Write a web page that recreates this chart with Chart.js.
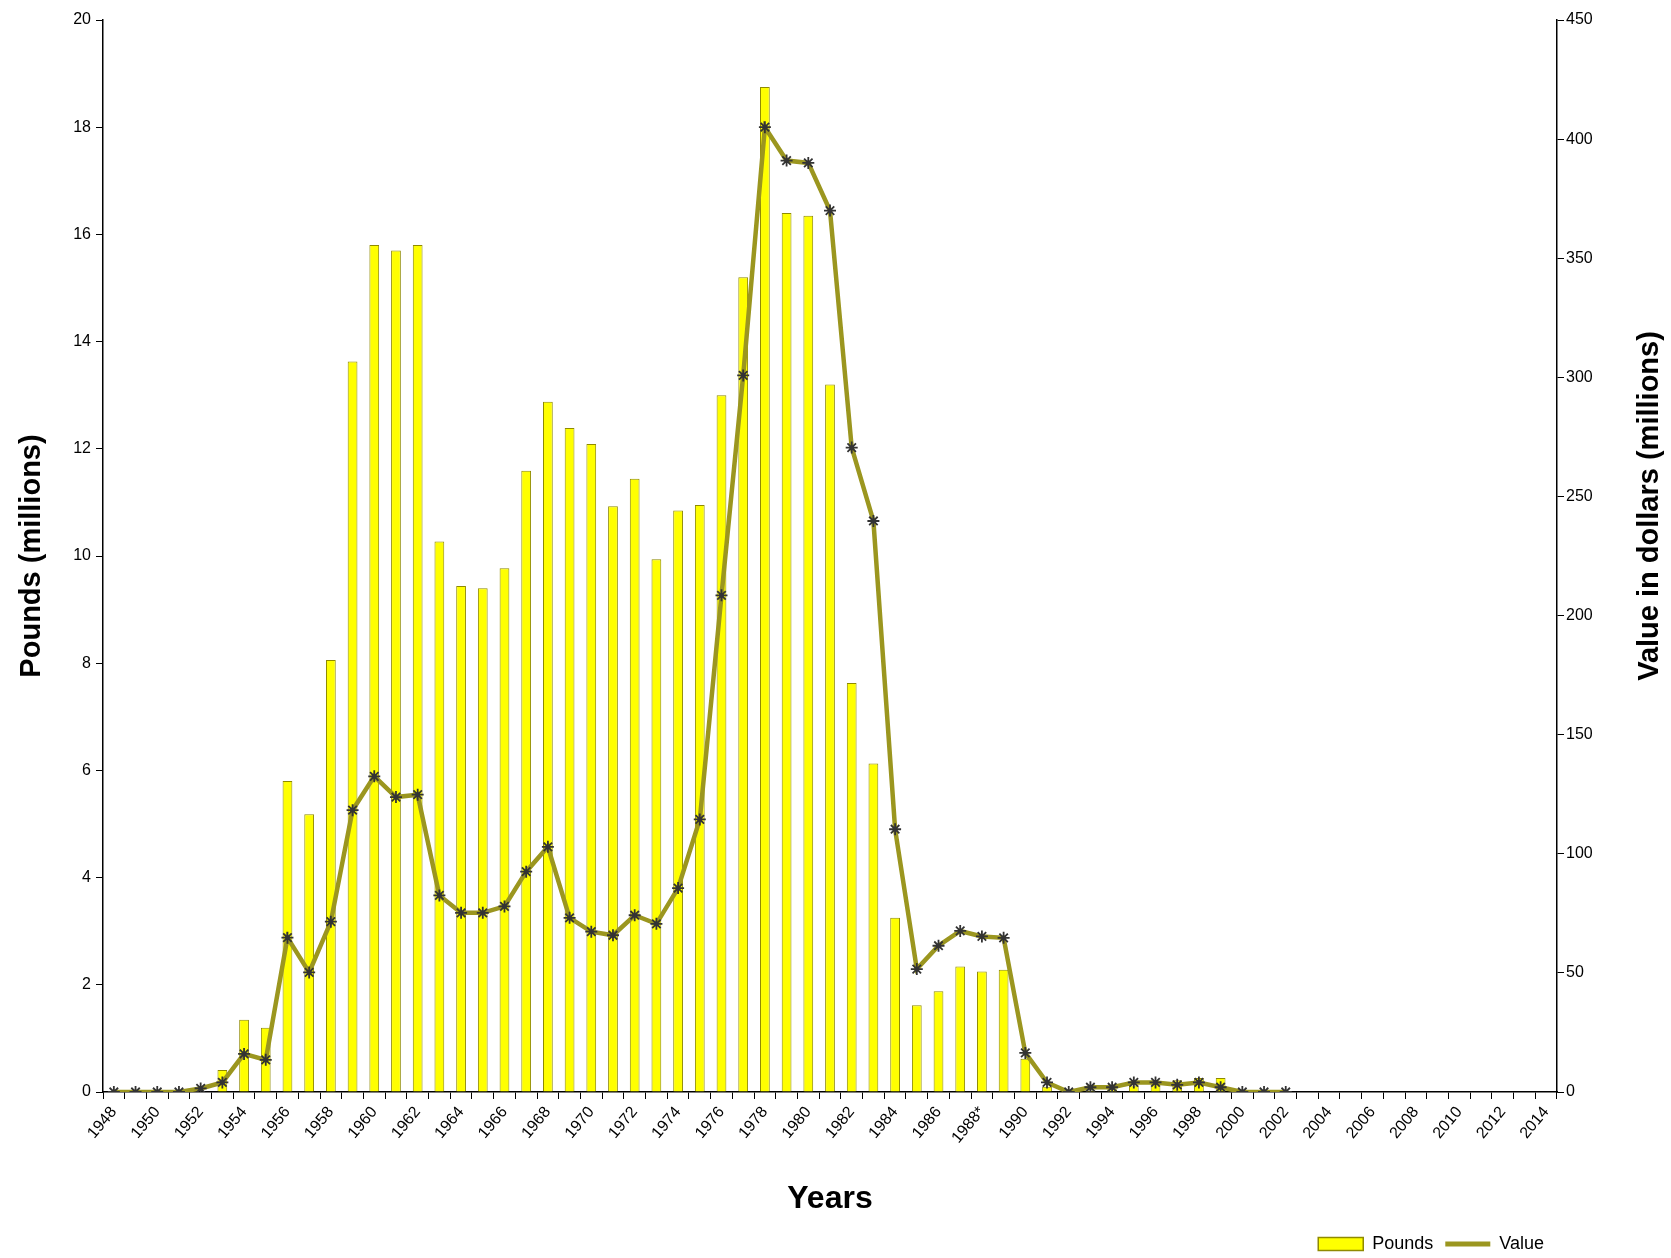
<!DOCTYPE html>
<html>
<head>
<meta charset="utf-8">
<script src="https://cdn.jsdelivr.net/npm/chart.js@4.4.1/dist/chart.umd.min.js"></script>
<style>
  html, body { margin: 0; padding: 0; background: #fff; }
  #wrap { width: 1671px; height: 1258px; }
</style>
</head>
<body>
<div id="wrap"><canvas id="landings"></canvas></div>
<script>
// categories (one per year, 1948-2014)
const years = [
  "1948","1949","1950","1951","1952","1953","1954","1955","1956","1957",
  "1958","1959","1960","1961","1962","1963","1964","1965","1966","1967",
  "1968","1969","1970","1971","1972","1973","1974","1975","1976","1977",
  "1978","1979","1980","1981","1982","1983","1984","1985","1986","1987",
  "1988*","1989","1990","1991","1992","1993","1994","1995","1996","1997",
  "1998","1999","2000","2001","2002","2003","2004","2005","2006","2007",
  "2008","2009","2010","2011","2012","2013","2014"
];

// landings, millions of pounds (1948-2002)
const pounds = [
  0, 0, 0, 0, 0, 0.41, 1.35, 1.2,
  5.8, 5.18, 8.06, 13.63, 15.8, 15.7, 15.8, 10.27, 9.44, 9.4,
  9.77, 11.59, 12.88, 12.39, 12.09, 10.93, 11.44, 9.94, 10.85, 10.95,
  13.0, 15.2, 18.75, 16.4, 16.35, 13.2, 7.63, 6.13, 3.25, 1.62,
  1.88, 2.34, 2.25, 2.28, 0.62, 0.1, 0, 0.03, 0.05, 0.12,
  0.18, 0.22, 0.26, 0.26, 0, 0, 0
];

// ex-vessel value, millions of dollars (1948-2002)
const value = [
  0, 0, 0, 0, 1.5, 4, 16, 13.5,
  64.8, 50.2, 71.5, 118.3, 132.5, 123.8, 124.8, 82.5, 75.2, 75.2,
  77.9, 92.5, 102.9, 73.1, 67.3, 65.8, 74.2, 70.6, 85.6, 114.4,
  208.5, 300.8, 405, 391, 390, 370, 270.5, 239.7, 110.3, 51.6,
  61.4, 67.6, 65.3, 64.7, 16.4, 4, 0, 2, 2, 4,
  4, 3, 4, 2, 0, 0, 0
];

const poundTicks = [0, 20, 2];
const valueTicks = [0, 450, 50];

const fontFamily = "'Liberation Sans', Arial, sans-serif";
const barFill = "#ffff00";
const barEdge = "#8f8a00";
const lineColor = "#9b961f";

// push the legend in from the right edge and down a little
const legendShift = {
  id: "legendShift",
  afterLayout(chart) {
    const lg = chart.legend;
    lg.left -= 115;
    lg.right -= 115;
    lg.top += 5;
    lg.bottom += 5;
  }
};

// right axis title reads bottom-to-top, like the left one
const rightTitle = {
  id: "rightTitle",
  afterDraw(chart) {
    const s = chart.scales.y1;
    const c = chart.ctx;
    c.save();
    c.translate(s.right - 21, (s.top + s.bottom) / 2 - 50);
    c.rotate(-Math.PI / 2);
    c.font = "bold 29px " + fontFamily;
    c.fillStyle = "#000";
    c.textAlign = "center";
    c.textBaseline = "middle";
    c.fillText("Value in dollars (millions)", 0, 0);
    c.restore();
  }
};

const ctx = document.getElementById("landings").getContext("2d");

new Chart(ctx, {
  type: "bar",
  data: {
    labels: years,
    datasets: [
      {
        type: "bar",
        label: "Pounds",
        data: pounds,
        yAxisID: "y",
        backgroundColor: barFill,
        borderColor: barEdge,
        borderWidth: 1,
        barPercentage: 0.45,
        categoryPercentage: 1.0,
        order: 1
      },
      {
        type: "line",
        label: "Value",
        data: value,
        yAxisID: "y1",
        borderColor: lineColor,
        backgroundColor: "#333",
        borderWidth: 4.5,
        tension: 0,
        pointStyle: "star",
        pointRadius: 6,
        pointBorderColor: "#333",
        pointBorderWidth: 1.8,
        order: 0
      }
    ]
  },
  options: {
    responsive: true,
    maintainAspectRatio: false,
    animation: false,
    layout: { padding: { top: 20, left: 0, right: 0, bottom: 0 } },
    plugins: {
      title: { display: false },
      tooltip: { enabled: false },
      legend: {
        position: "bottom",
        align: "end",
        labels: {
          usePointStyle: true,
          pointStyleWidth: 45,
          boxHeight: 13,
          padding: 12,
          color: "#111",
          font: { family: fontFamily, size: 18 },
          generateLabels: () => [
            { text: "Pounds", fillStyle: barFill, strokeStyle: barEdge, lineWidth: 1.5, pointStyle: "rect", datasetIndex: 0 },
            { text: "Value", fillStyle: lineColor, strokeStyle: lineColor, lineWidth: 5, pointStyle: "line", datasetIndex: 1 }
          ]
        }
      }
    },
    scales: {
      x: {
        afterFit: (s) => { s.height = 126; },
        grid: { drawOnChartArea: false, drawTicks: true, tickLength: 7, color: "#000", offset: true },
        border: { color: "#000", width: 1.5 },
        ticks: {
          autoSkip: false,
          minRotation: 50,
          maxRotation: 50,
          padding: 4,
          color: "#000",
          font: { family: fontFamily, size: 16 },
          callback: function (v, i) { return i % 2 === 0 ? this.getLabelForValue(v) : ""; }
        },
        title: {
          display: true,
          text: "Years",
          color: "#000",
          padding: { top: 0, bottom: 0 },
          font: { family: fontFamily, size: 32, weight: "bold" }
        }
      },
      y: {
        position: "left",
        min: poundTicks[0],
        max: poundTicks[1],
        afterFit: (s) => { s.width = 103; },
        grid: { drawOnChartArea: false, tickLength: 7, color: "#000" },
        border: { color: "#000", width: 1.5 },
        ticks: {
          stepSize: poundTicks[2],
          padding: 5,
          color: "#000",
          font: { family: fontFamily, size: 16 }
        },
        title: {
          display: true,
          text: "Pounds (millions)",
          color: "#000",
          padding: { top: 15, bottom: 0 },
          font: { family: fontFamily, size: 29, weight: "bold" }
        }
      },
      y1: {
        position: "right",
        min: valueTicks[0],
        max: valueTicks[1],
        afterFit: (s) => { s.width = 114; },
        grid: { drawOnChartArea: false, tickLength: 7, color: "#000" },
        border: { color: "#000", width: 1.5 },
        ticks: {
          stepSize: valueTicks[2],
          padding: 2,
          color: "#000",
          font: { family: fontFamily, size: 16 }
        },
        title: { display: false }
      }
    }
  },
  plugins: [legendShift, rightTitle]
});
</script>
</body>
</html>
